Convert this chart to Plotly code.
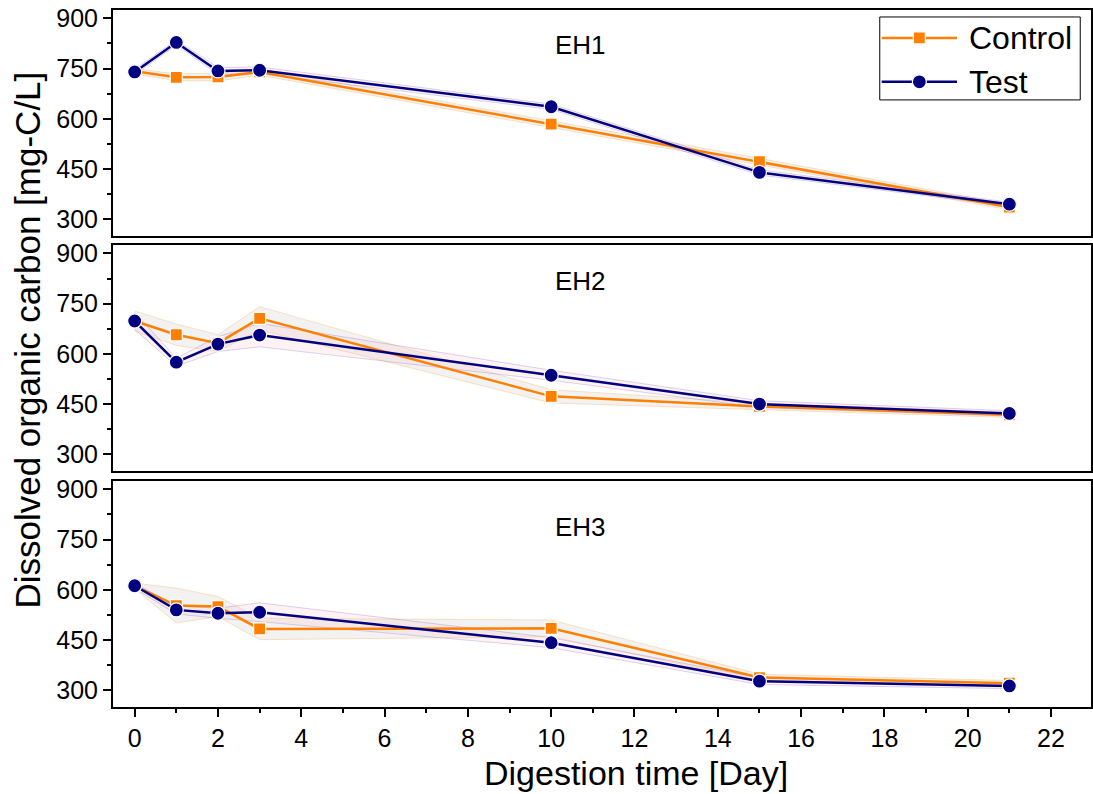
import plotly.graph_objects as go

# Digestion time points [Day]
days = [0, 1, 2, 3, 10, 15, 21]

# Dissolved organic carbon [mg-C/L] per reactor, with spread for the shaded bands
eh1_control = [742, 724, 725, 740, 584, 472, 336]
eh1_control_err = [8, 10, 12, 10, 10, 10, 8]
eh1_test = [740, 828, 743, 745, 636, 440, 345]
eh1_test_err = [8, 8, 10, 10, 8, 8, 6]

eh2_control = [698, 657, 632, 706, 473, 443, 418]
eh2_control_err = [30, 32, 25, 35, 20, 10, 8]
eh2_test = [698, 575, 629, 656, 536, 450, 422]
eh2_test_err = [25, 12, 22, 35, 15, 10, 8]

eh3_control = [612, 553, 550, 483, 485, 338, 321]
eh3_control_err = [8, 52, 30, 32, 25, 10, 8]
eh3_test = [612, 540, 530, 533, 442, 327, 313]
eh3_test_err = [8, 12, 15, 28, 15, 10, 8]

panel_names = ["EH1", "EH2", "EH3"]
series_names = ["Control", "Test"]
panels = [
    (eh1_control, eh1_control_err, eh1_test, eh1_test_err),
    (eh2_control, eh2_control_err, eh2_test, eh2_test_err),
    (eh3_control, eh3_control_err, eh3_test, eh3_test_err),
]

ORANGE = "#FF8000"
NAVY = "#000080"
FONT = "Liberation Sans, Arial, sans-serif"

ctrl_marker = dict(symbol="square", size=12, color=ORANGE,
                   line=dict(color="white", width=1.2))
test_marker = dict(symbol="circle", size=14, color=NAVY,
                   line=dict(color="white", width=1.2))

fig = go.Figure()

# vertical domains for the three stacked panels (top to bottom)
domains = [[0.6758, 1.0], [0.3386, 0.6628], [0.0, 0.3243]]
label_y = [0.847, 0.841, 0.796]


def band(x, y, err):
    upper = [v + e for v, e in zip(y, err)]
    lower = [v - e for v, e in zip(y, err)]
    return list(x) + list(x)[::-1], upper + lower[::-1]


for i, (ctrl, ctrl_err, test, test_err) in enumerate(panels):
    n = i + 1
    xa = "x" if n == 1 else f"x{n}"
    ya = "y" if n == 1 else f"y{n}"

    bx, by = band(days, ctrl, ctrl_err)
    fig.add_trace(go.Scatter(
        x=bx, y=by, xaxis=xa, yaxis=ya, mode="lines", fill="toself",
        fillcolor="rgba(200,200,200,0.24)",
        line=dict(color="rgba(255,128,0,0.22)", width=1),
        hoverinfo="skip", showlegend=False))
    bx, by = band(days, test, test_err)
    fig.add_trace(go.Scatter(
        x=bx, y=by, xaxis=xa, yaxis=ya, mode="lines", fill="toself",
        fillcolor="rgba(255,190,190,0.2)",
        line=dict(color="rgba(90,60,200,0.22)", width=1),
        hoverinfo="skip", showlegend=False))

    fig.add_trace(go.Scatter(
        x=days, y=ctrl, xaxis=xa, yaxis=ya, mode="lines+markers",
        name=series_names[0], line=dict(color=ORANGE, width=2.5),
        marker=ctrl_marker, showlegend=False))
    fig.add_trace(go.Scatter(
        x=days, y=test, xaxis=xa, yaxis=ya, mode="lines+markers",
        name=series_names[1], line=dict(color=NAVY, width=2.5),
        marker=test_marker, showlegend=False))

    xkey = "xaxis" if n == 1 else f"xaxis{n}"
    ykey = "yaxis" if n == 1 else f"yaxis{n}"
    bottom = (n == 3)
    fig.layout[xkey] = dict(
        domain=[0, 1], anchor=ya, range=[-0.52, 22.96],
        matches=None if n == 1 else "x",
        showline=True, linecolor="black", linewidth=2, mirror=True,
        showgrid=False, zeroline=False,
        ticks="outside" if bottom else "", ticklen=8, tickwidth=2,
        tickcolor="black", dtick=2, tick0=0,
        showticklabels=bottom,
        tickfont=dict(family=FONT, size=25, color="black"),
        minor=dict(ticks="outside" if bottom else "", ticklen=4,
                   tickwidth=2, dtick=1, tickcolor="black"),
    )
    fig.layout[ykey] = dict(
        domain=domains[i], anchor=xa, range=[250, 925],
        showline=True, linecolor="black", linewidth=2, mirror=True,
        showgrid=False, zeroline=False,
        ticks="outside", ticklen=8, tickwidth=2, tickcolor="black",
        tick0=300, dtick=150,
        tickfont=dict(family=FONT, size=25, color="black"),
        minor=dict(ticks="outside", ticklen=4, tickwidth=2, dtick=75,
                   tickcolor="black"),
    )

    fig.add_annotation(
        text=panel_names[i], xref=f"{xa} domain", yref=f"{ya} domain",
        x=0.478, y=label_y[i], xanchor="center", yanchor="middle",
        showarrow=False, font=dict(family=FONT, size=26, color="black"))

# Legend drawn on a hidden axis pair spanning the whole plot area
fig.layout["xaxis4"] = dict(domain=[0, 1], range=[0, 1], visible=False,
                            anchor="y4", fixedrange=True)
fig.layout["yaxis4"] = dict(domain=[0, 1], range=[0, 1], visible=False,
                            anchor="x4", fixedrange=True)
fig.add_shape(type="rect", xref="paper", yref="paper",
              x0=0.784, x1=0.989, y0=0.871, y1=0.990,
              line=dict(color="black", width=1), fillcolor="white", layer="below")
legend_rows = [0.960, 0.897]
legend_styles = [(ORANGE, ctrl_marker), (NAVY, test_marker)]
for row_y, name, (col, mk) in zip(legend_rows, series_names, legend_styles):
    fig.add_trace(go.Scatter(
        x=[0.786, 0.863], y=[row_y, row_y], xaxis="x4", yaxis="y4",
        mode="lines", line=dict(color=col, width=2.5),
        hoverinfo="skip", showlegend=False))
    fig.add_trace(go.Scatter(
        x=[0.8245], y=[row_y], xaxis="x4", yaxis="y4", mode="markers",
        marker=mk, hoverinfo="skip", showlegend=False))
    fig.add_annotation(
        text=name, xref="paper", yref="paper", x=0.873, y=row_y,
        xanchor="left", yanchor="middle", showarrow=False,
        font=dict(family=FONT, size=32, color="black"))

fig.add_annotation(
    text="Dissolved organic carbon [mg-C/L]", xref="paper", yref="paper",
    x=-0.087, y=0.527, xanchor="center", yanchor="middle",
    textangle=-90, showarrow=False,
    font=dict(family=FONT, size=35, color="black"))

fig.add_annotation(
    text="Digestion time [Day]", xref="paper", yref="paper",
    x=0.535, y=-0.0947, xanchor="center", yanchor="middle",
    showarrow=False, font=dict(family=FONT, size=34, color="black"))

fig.update_layout(
    width=1093, height=794,
    margin=dict(l=113, r=0, t=10, b=87),
    paper_bgcolor="white", plot_bgcolor="rgba(0,0,0,0)",
    showlegend=False,
)

fig.write_html("out.html")
